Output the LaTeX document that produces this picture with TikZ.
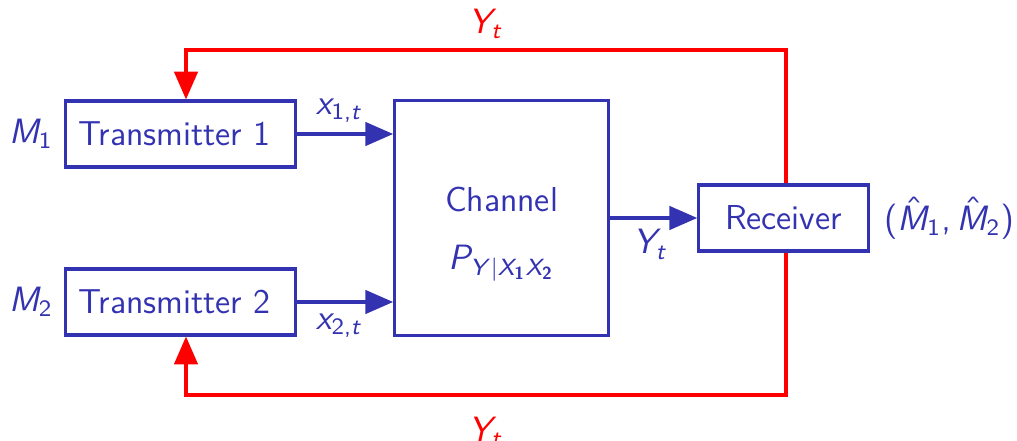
\documentclass[tikz,border=0pt]{standalone}
\usepackage{amsmath}
\usepackage{tikz}
\usetikzlibrary{positioning, arrows.meta}
\renewcommand{\familydefault}{\sfdefault}
\definecolor{struct}{rgb}{0.2,0.2,0.7}

% sans serif math, slanted letters
\DeclareMathVersion{sans}
\SetSymbolFont{operators}{sans}{OT1}{cmss}{m}{n}
\SetSymbolFont{letters}{sans}{OT1}{cmss}{m}{sl}
\SetMathAlphabet{\mathbf}{sans}{OT1}{cmss}{bx}{n}
\mathcode`\,="602C

\newcommand{\blkfont}{\fontsize{11.8}{14}\selectfont}

\tikzset{
    blk/.style={draw=struct, line width=1.1pt, text=struct, inner sep=0pt, font=\blkfont},
    txblk/.style={blk, minimum height=0.79cm, text width=2.45cm, inner xsep=4.5pt, align=left},
    sig/.style={-{Triangle[length=9.5pt, width=8pt]}, struct, line width=1.1pt},
    fb/.style={-{Triangle[length=9.5pt, width=8pt]}, red, line width=1.1pt},
    lbl/.style={text=struct, font=\blkfont},
}

\begin{document}
\mathversion{sans}
\begin{tikzpicture}[x=0.012cm, y=-0.012cm]
    \useasboundingbox (0,0) rectangle (1017,441);

    % blocks
    \node[txblk] (tx1) at (180.5,134) {Transmitter 1};
    \node[txblk] (tx2) at (180.5,302) {Transmitter 2};
    \node[blk, minimum width=2.56cm, minimum height=2.81cm] (ch) at (501.5,218) {};
    \node[lbl, align=center] (chtxt) at ([yshift=-5.5pt]ch.center) {Channel\\[6pt] $P_{Y|X_{\mathbf{1}}X_{\mathbf{2}}}$};
    \node[blk, minimum width=2.03cm, minimum height=0.79cm] (rx) at (783.5,218) {Receiver};

    % messages
    \node[lbl] (m1) at (31,134) {$M_1$};
    \node[lbl] (m2) at (31,302) {$M_2$};
    \node[lbl] (mhat) at (949,218) {$(\hat{M}_1,\hat{M}_2)$};

    % forward signals
    \draw[sig] (tx1.east) -- node[lbl, above, xshift=-2pt] {$x_{1,t}$} (tx1.east -| ch.west);
    \draw[sig] (tx2.east) -- node[lbl, below, xshift=-2pt] {$x_{2,t}$} (tx2.east -| ch.west);
    \draw[sig] (ch.east) -- node[lbl, below, xshift=-1pt] {$Y_t$} (rx.west);

    % feedback
    \coordinate (ftop) at (786,50);
    \coordinate (fbot) at (786,395);
    \coordinate (ltop) at (186,50);
    \coordinate (lbot) at (186,395);
    \draw[fb] (rx.north -| ftop) -- (ftop) -- node[lbl, above=0pt, text=red] {$Y_t$} (ltop) -- (ltop |- tx1.north);
    \draw[fb] (rx.south -| fbot) -- (fbot) -- node[lbl, below=3.5pt, text=red] {$Y_t$} (lbot) -- (lbot |- tx2.south);
\end{tikzpicture}
\end{document}
